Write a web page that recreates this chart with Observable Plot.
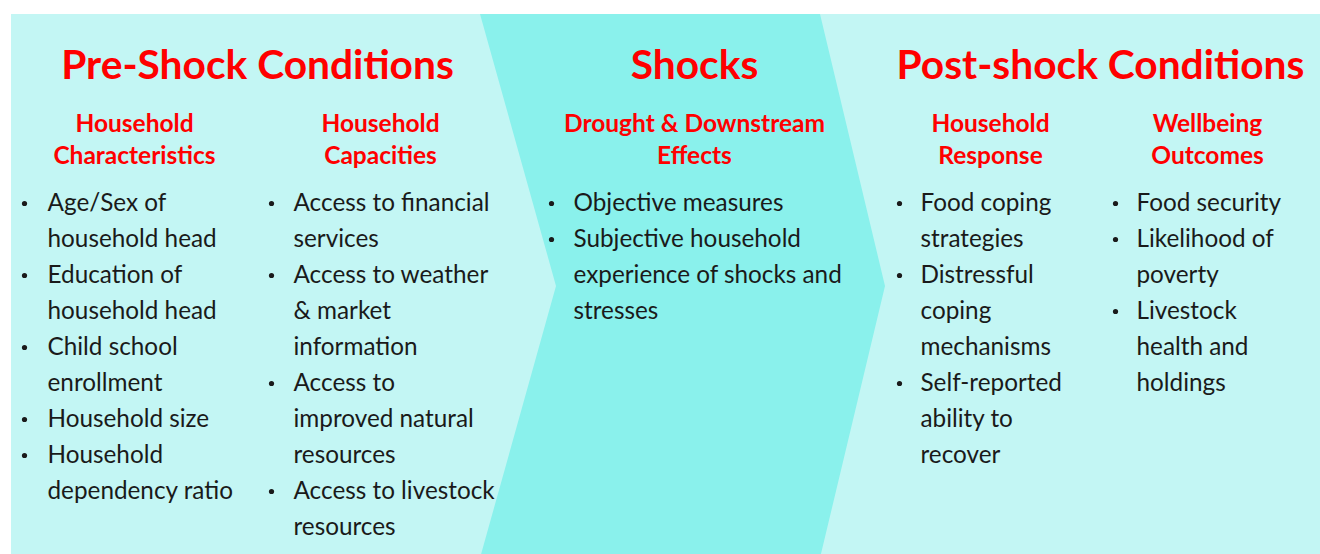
<!DOCTYPE html>
<html>
<head>
<meta charset="utf-8">
<script src="https://cdn.jsdelivr.net/npm/d3@7"></script>
<script src="https://cdn.jsdelivr.net/npm/@observablehq/plot@0.6"></script>
<style>
  html, body { margin: 0; padding: 0; background: #ffffff; }
  #chart svg { display: block; }
</style>
</head>
<body>
<div id="chart"></div>
<script>
// ---- content ----
const sectionTitles = ["Pre-Shock Conditions", "Shocks", "Post-shock Conditions"];
const columnHeaders = [
  "Household\nCharacteristics",
  "Household\nCapacities",
  "Drought & Downstream\nEffects",
  "Household\nResponse",
  "Wellbeing\nOutcomes"
];
const col1Items = ["Age/Sex of\nhousehold head", "Education of\nhousehold head", "Child school\nenrollment", "Household size", "Household\ndependency ratio"];
const col2Items = ["Access to financial\nservices", "Access to weather\n& market\ninformation", "Access to\nimproved natural\nresources", "Access to livestock\nresources"];
const col3Items = ["Objective measures", "Subjective household\nexperience of shocks and\nstresses"];
const col4Items = ["Food coping\nstrategies", "Distressful\ncoping\nmechanisms", "Self-reported\nability to\nrecover"];
const col5Items = ["Food security", "Likelihood of\npoverty", "Livestock\nhealth and\nholdings"];

// ---- layout ----
const W = 1320, H = 554;
const FONT = "Lato, 'Open Sans', sans-serif";
const LIGHT = "#c3f6f4", MID = "#8af1ec", RED = "#ff0000", INK = "#1a1a1a";
const titleX = [257, 694, 1100];
const headerX = [134, 380, 694, 990, 1207];
const bulletX = [24, 271, 551, 899, 1115];
const textX = [47, 293, 573, 920, 1136];
const firstLineY = 203, lineStep = 36;
const cols = [col1Items, col2Items, col3Items, col4Items, col5Items];

// background panel & chevron outline (y top, tip, bottom)
const panel = [{x1: 11, x2: W, y1: 14, y2: H}];
const chevron = [
  {y: 14, left: 480, right: 820},
  {y: 286, left: 556, right: 885},
  {y: 558, left: 480, right: 820}
];

const lines = [], bullets = [];
cols.forEach((items, c) => {
  let li = 0;
  items.forEach(item => {
    const parts = item.split("\n");
    bullets.push({x: bulletX[c], y: firstLineY + lineStep * li});
    parts.forEach(p => { lines.push({x: textX[c], y: firstLineY + lineStep * li, text: p}); li++; });
  });
});
const titles = sectionTitles.map((t, i) => ({x: titleX[i], y: 65, text: t}));
const headers = columnHeaders.map((t, i) => ({x: headerX[i], y: 137, text: t}));

const plot = Plot.plot({
  width: W, height: H,
  margin: 0,
  x: {domain: [0, W], range: [0, W], axis: null},
  y: {domain: [0, H], range: [0, H], axis: null},
  style: {background: "#ffffff", fontFamily: FONT},
  marks: [
    Plot.rect(panel, {x1: "x1", x2: "x2", y1: "y1", y2: "y2", fill: LIGHT}),
    Plot.areaX(chevron, {y: "y", x1: "left", x2: "right", fill: MID, curve: "linear"}),
    Plot.text(titles, {x: "x", y: "y", text: "text", fill: RED, fontSize: 40.7, fontWeight: "bold", textAnchor: "middle"}),
    Plot.text(headers, {x: "x", y: "y", text: "text", fill: RED, fontSize: 24.5, fontWeight: "bold", textAnchor: "middle", lineHeight: 32 / 24.5}),
    Plot.dot(bullets, {x: "x", y: "y", r: 2.6, fill: INK, stroke: null}),
    Plot.text(lines, {x: "x", y: "y", text: "text", fill: INK, fontSize: 24.3, textAnchor: "start"})
  ]
});
document.getElementById("chart").appendChild(plot);
</script>
</body>
</html>
